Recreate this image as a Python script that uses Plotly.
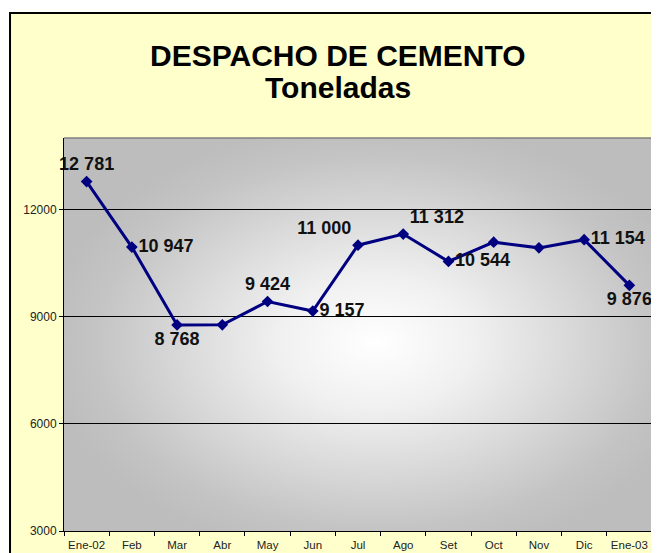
import base64
import plotly.graph_objects as go

months = ["Ene-02", "Feb", "Mar", "Abr", "May", "Jun", "Jul",
          "Ago", "Set", "Oct", "Nov", "Dic", "Ene-03"]
tons = [12781, 10947, 8768, 8770, 9424, 9157, 11000,
        11312, 10544, 11085, 10925, 11154, 9876]
labeled = [True, True, True, False, True, True, True,
           True, True, False, False, True, True]
y_ticks = [3000, 6000, 9000, 12000]

label_text = [f"{v:,}".replace(",", " ") if s else "" for v, s in zip(tons, labeled)]
positions = ["top center", "middle right", "bottom center", "middle right",
             "top center", "middle right", "top left", "top right",
             "middle right", "middle right", "middle right", "middle right",
             "bottom center"]

FONT = "Liberation Sans, Arial, sans-serif"

svg = (
    "<svg xmlns='http://www.w3.org/2000/svg' width='588' height='393' "
    "viewBox='0 0 588 393' preserveAspectRatio='none'>"
    "<defs><radialGradient id='g' cx='0.53' cy='0.52' r='0.56' "
    "gradientUnits='objectBoundingBox'>"
    "<stop offset='0' stop-color='#FFFFFF'/>"
    "<stop offset='0.3' stop-color='#F0F0F0'/>"
    "<stop offset='0.85' stop-color='#C4C4C4'/>"
    "<stop offset='1' stop-color='#BDBDBD'/></radialGradient></defs>"
    "<rect width='588' height='393' fill='url(#g)'/></svg>"
)
svg_uri = "data:image/svg+xml;base64," + base64.b64encode(svg.encode()).decode()

fig = go.Figure()
fig.add_trace(go.Scatter(
    x=months, y=tons,
    mode="lines+markers+text",
    line=dict(color="#000080", width=3),
    marker=dict(symbol="diamond", size=9, color="#000080"),
    text=label_text,
    textposition=positions,
    textfont=dict(family=FONT, size=18, color="#111111", weight="bold"),
    cliponaxis=False,
    hoverinfo="x+y",
    showlegend=False,
))

# The page body adds an 8px margin, so the figure is 8px smaller than the window.
fig.update_layout(
    width=651, height=545,
    margin=dict(l=56, r=7, t=130, b=22, pad=0),
    paper_bgcolor="white",
    plot_bgcolor="rgba(0,0,0,0)",
    font=dict(family=FONT, size=12, color="#222222"),
    xaxis=dict(
        type="category", range=[-0.5, 12.5],
        tickson="boundaries", ticks="outside", ticklen=4, tickcolor="black",
        ticklabelstandoff=3, tickangle=0, automargin=False,
        showline=True, linecolor="black", linewidth=1,
        showgrid=False, zeroline=False,
        tickfont=dict(family=FONT, size=11.5, color="#222222"),
    ),
    yaxis=dict(
        range=[3000, 14000], tickvals=y_ticks, ticktext=[str(v) for v in y_ticks],
        ticks="outside", ticklen=4, tickcolor="black", automargin=False,
        showline=True, linecolor="black", linewidth=1,
        showgrid=True, gridcolor="black", gridwidth=1, zeroline=False,
        tickfont=dict(family=FONT, size=12, color="#222222"),
    ),
    images=[dict(
        source=svg_uri, xref="x domain", yref="y domain",
        x=0, y=1, sizex=1, sizey=1, xanchor="left", yanchor="top",
        sizing="stretch", layer="below",
    )],
    shapes=[
        dict(type="rect", xref="paper", yref="paper",
             x0=-0.0918, x1=1.3, y0=-0.5, y1=1.318,
             fillcolor="#FFFFCC", line=dict(color="black", width=2),
             layer="below"),
        dict(type="line", xref="paper", yref="paper",
             x0=0, x1=1, y0=1, y1=1,
             line=dict(color="#808080", width=1.5), layer="above"),
        dict(type="line", xref="paper", yref="paper",
             x0=1, x1=1, y0=0, y1=1,
             line=dict(color="#808080", width=1.5), layer="above"),
    ],
    annotations=[
        dict(text="<b>DESPACHO DE CEMENTO</b>", xref="paper", yref="paper",
             x=0.466, y=1.211, xanchor="center", yanchor="middle",
             showarrow=False, font=dict(family=FONT, size=30, color="black")),
        dict(text="<b>Toneladas</b>", xref="paper", yref="paper",
             x=0.466, y=1.128, xanchor="center", yanchor="middle",
             showarrow=False, font=dict(family=FONT, size=30, color="black")),
    ],
)

fig.write_html("out.html")
